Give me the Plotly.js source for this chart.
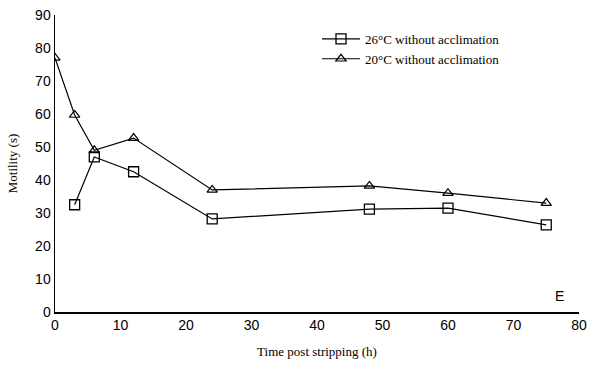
<!DOCTYPE html>
<html><head><meta charset="utf-8">
<script src="https://cdn.plot.ly/plotly-3.0.1.min.js"></script>
<style>body{margin:0;background:#fff}#c{width:600px;height:372px}</style>
</head><body><div id="c"></div>
<script>
const x26 = [3, 6, 12, 24, 48, 60, 75];
const y26 = [32.5, 47, 42.5, 28.2, 31.2, 31.5, 26.4];
const x20 = [0, 3, 6, 12, 24, 48, 60, 75];
const y20 = [77, 59.7, 49, 52.7, 37, 38.2, 36, 33];
const name26 = "26°C without acclimation";
const name20 = "20°C without acclimation";

const traces = [
  {x: x26, y: y26, name: name26, mode: 'lines+markers', type: 'scatter',
   line: {color: '#000', width: 1.2},
   marker: {symbol: 'square-open', size: 10, color: '#000', line: {width: 1.3}}},
  {x: x20, y: y20, name: name20, mode: 'lines+markers', type: 'scatter',
   line: {color: '#000', width: 1.2},
   marker: {symbol: 'triangle-up-open', size: 9, color: '#000', line: {width: 1.2}}}
];
const layout = {
  width: 600, height: 372,
  margin: {l: 55, r: 21, t: 15, b: 60},
  paper_bgcolor: '#fff', plot_bgcolor: '#fff',
  showlegend: true,
  legend: {x: 0.5, y: 0.97, xanchor: 'left', yanchor: 'top', itemwidth: 38,
           font: {family: 'Liberation Serif', size: 13, color: '#000'},
           bgcolor: 'rgba(0,0,0,0)', tracegroupgap: 0},
  xaxis: {range: [0, 80], tickvals: [0,10,20,30,40,50,60,70,80], showgrid: false, zeroline: false,
          showline: true, linecolor: '#000', linewidth: 1.5, ticks: '',
          tickfont: {family: 'Liberation Sans', size: 14, color: '#000'},
          title: {text: 'Time post stripping (h)', font: {family: 'Liberation Serif', size: 13, color: '#000'}, standoff: 14}},
  yaxis: {range: [0, 90], tickvals: [0,10,20,30,40,50,60,70,80,90], showgrid: false, zeroline: false,
          showline: true, linecolor: '#000', linewidth: 1.5, ticks: '',
          tickfont: {family: 'Liberation Sans', size: 14, color: '#000'},
          title: {text: 'Motility (s)', font: {family: 'Liberation Serif', size: 13, color: '#000'}, standoff: 14}},
  annotations: [{x: 77, y: 5, xref: 'x', yref: 'y', text: 'E', showarrow: false,
                 font: {family: 'Liberation Sans', size: 14, color: '#000'}}]
};
Plotly.newPlot('c', traces, layout, {displayModeBar: false, staticPlot: true});
</script></body></html>
